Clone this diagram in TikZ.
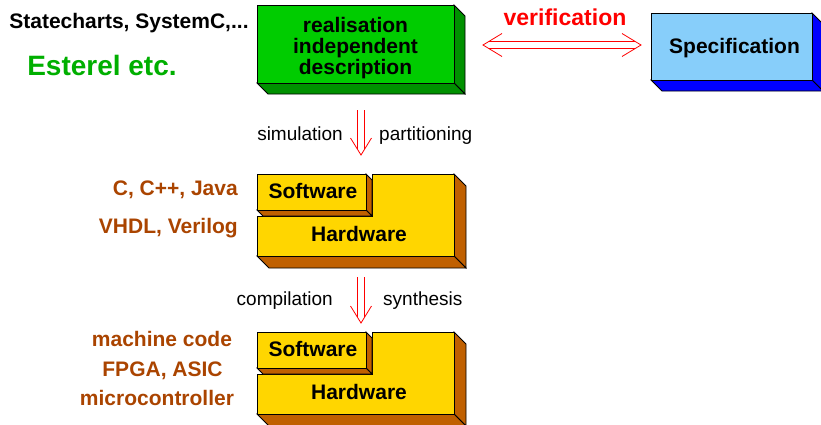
\documentclass[tikz,border=0pt]{standalone}
\usepackage{fontspec}
\setmainfont{Liberation Sans}
\usetikzlibrary{calc}
\definecolor{gfront}{RGB}{0,204,0}
\definecolor{gside}{RGB}{0,145,0}
\definecolor{gtext}{RGB}{0,175,0}
\definecolor{bfront}{RGB}{135,206,250}
\definecolor{bside}{RGB}{0,0,255}
\definecolor{yfront}{RGB}{255,214,0}
\definecolor{yside}{RGB}{192,96,0}
\definecolor{ltext}{RGB}{170,68,0}
\definecolor{vred}{RGB}{255,0,0}
\newcommand\hollowdown[2]{%
  \draw[harrow] let \p1=(#1), \p2=(#2) in
    (\x1-3.5pt,\y1) -- (\x1-3.5pt,\y2+5.7pt)
    (\x1+3.5pt,\y1) -- (\x1+3.5pt,\y2+5.7pt)
    (\x1-10.5pt,\y2+17pt) -- (\x1,\y2) -- (\x1+10.5pt,\y2+17pt);}
\begin{document}
\begin{tikzpicture}[x=1pt,y=-1pt,line join=miter,
  face/.style={draw=black,line width=0.8pt},
  harrow/.style={draw=vred,line width=0.8pt},
  bl/.style={font=\fontsize{21}{21}\selectfont\bfseries,inner sep=0pt,anchor=base},
  rl/.style={font=\fontsize{19}{19}\selectfont,inner sep=0pt,anchor=base},
  swhw/.pic={
    % hardware
    \filldraw[face,fill=yside] (197,0) -- (209,12) -- (209,94) -- (197,82) -- cycle;
    \filldraw[face,fill=yside] (0,82) -- (197,82) -- (209,94) -- (12,94) -- cycle;
    \filldraw[face,fill=yfront] (0,42) -- (115,42) -- (115,0) -- (197,0) -- (197,82) -- (0,82) -- cycle;
    % software
    \filldraw[face,fill=yside] (109,0) -- (115,6) -- (115,42) -- (109,36) -- cycle;
    \filldraw[face,fill=yside] (0,36) -- (109,36) -- (115,42) -- (6,42) -- cycle;
    \node[face,fill=yfront,minimum width=109pt,minimum height=36pt,inner sep=0pt] (-sw) at (54.5,18) {};
    \node[bl] (-swt) at (56,24.5) {Software};
    \node[bl] (-hwt) at (102,67.5) {Hardware};
  }]
\useasboundingbox (0,0) rectangle (821,424);

% green box
\filldraw[face,fill=gside] (454,5) -- (465,16) -- (465,94) -- (454,83) -- cycle;
\filldraw[face,fill=gside] (257,83) -- (454,83) -- (465,94) -- (268,94) -- cycle;
\node[face,fill=gfront,minimum width=197pt,minimum height=78pt,inner sep=0pt] (rid) at (355.5,44) {};
\node[font=\fontsize{21}{21}\selectfont\bfseries,align=center,inner sep=0pt] (ridt) at (355.5,48.5) {realisation\\independent\\description};

% specification box
\filldraw[face,fill=bside] (812,13) -- (823,24) -- (823,91) -- (812,80) -- cycle;
\filldraw[face,fill=bside] (651,80) -- (812,80) -- (823,91) -- (662,91) -- cycle;
\node[face,fill=bfront,minimum width=161pt,minimum height=67pt,inner sep=0pt] (spec) at (731.5,46.5) {};
\node[bl] (spect) at (734.5,53) {Specification};

% verification arrow
\coordinate (va) at (483,45);
\coordinate (vb) at (641,45);
\draw[harrow] let \p1=(va), \p2=(vb) in
  (\x1+5.8pt,\y1+3.5pt) -- (\x2-5.8pt,\y1+3.5pt)
  (\x1+5.8pt,\y1-3.5pt) -- (\x2-5.8pt,\y1-3.5pt)
  (\x1+19pt,\y1+11.5pt) -- (\x1,\y1) -- (\x1+19pt,\y1-11.5pt)
  (\x2-19pt,\y1+11.5pt) -- (\x2,\y1) -- (\x2-19pt,\y1-11.5pt);
\node[font=\fontsize{23}{23}\selectfont\bfseries,text=vred,inner sep=0pt,anchor=base] (vt) at (565,25) {verification};

% left top labels
\node[bl] (sc) at (129,28) {Statecharts, SystemC,...};
\node[font=\fontsize{28}{28}\selectfont\bfseries,text=gtext,inner sep=0pt,anchor=base] (est) at (102,75) {Esterel etc.};

% blocks
\pic (b1) at (257,174) {swhw};
\pic (b2) at (257,332) {swhw};

% down arrows
\coordinate (a1s) at (361,110);
\coordinate (a1e) at (361,155);
\coordinate (a2s) at (361,277);
\coordinate (a2e) at (361,323);
\hollowdown{a1s}{a1e}
\hollowdown{a2s}{a2e}
\node[rl,anchor=base east] (sim) at (343,140) {simulation};
\node[rl,anchor=base west] (part) at (379,140) {partitioning};
\node[rl,anchor=base east] (comp) at (333,305) {compilation};
\node[rl,anchor=base west] (synth) at (383,305) {synthesis};

% left labels
\node[bl,text=ltext,anchor=base east] (cl) at (238,195) {C, C++, Java};
\node[bl,text=ltext,anchor=base east] (vl) at (238,233) {VHDL, Verilog};
\node[bl,text=ltext] (mc) at (162,346) {machine code};
\node[bl,text=ltext] (fp) at (162.5,376) {FPGA, ASIC};
\node[bl,text=ltext] (mcu) at (157,405) {microcontroller};
\end{tikzpicture}
\end{document}
